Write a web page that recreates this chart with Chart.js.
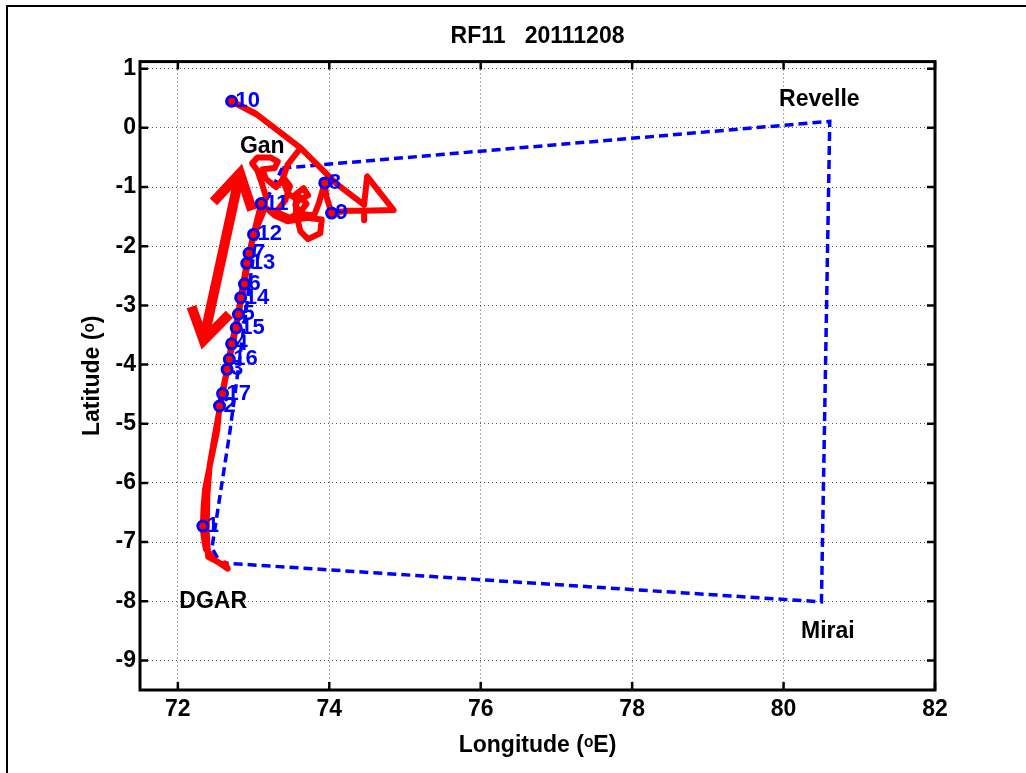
<!DOCTYPE html>
<html>
<head>
<meta charset="utf-8">
<title>RF11 20111208</title>
<script src="https://cdn.jsdelivr.net/npm/chart.js@4.4.0/dist/chart.umd.min.js"></script>
<style>
  html, body { margin: 0; padding: 0; background: #fff; }
  #wrap { position: relative; width: 1026px; height: 773px; }
  #frame { position: absolute; left: 6px; top: 5px; right: 0; bottom: 0;
           border-left: 2px solid #000; border-top: 2px solid #000; pointer-events: none; }
</style>
</head>
<body>
<div id="wrap">
  <canvas id="flightChart" width="1026" height="773"></canvas>
  <div id="frame"></div>
</div>
<script>
// --- Axis ticks ---
const lonTicks = [72, 74, 76, 78, 80, 82];
const latTicks = [-9, -8, -7, -6, -5, -4, -3, -2, -1, 0, 1];

// --- Red aircraft track (lon / lat) ---
const trackLon = [
  72.64, 72.48, 72.37, 72.34, 72.33, 72.34, 72.36, 72.44, 72.52, 72.55,
  72.65, 72.71, 72.80, 72.88, 72.94, 73.02, 73.12, 73.16, 73.10, 73.05,
  72.98, 73.05, 73.22, 73.32, 73.28, 73.12, 73.16, 73.30, 73.40, 73.48,
  73.42, 73.30, 73.48, 73.62, 73.70, 73.62, 73.55, 73.62, 73.80, 73.86,
  73.94, 73.96, 74.03, 74.25, 74.46, 74.46, 74.46, 74.85, 74.50, 74.46,
  74.10, 73.62, 73.58, 73.05, 73.02, 72.71,
  73.05, 73.62, 73.45, 73.38, 73.46, 73.60, 73.72, 73.66, 73.56, 73.56,
  73.62, 73.72, 73.88, 73.90, 73.70, 73.45, 73.28, 73.10, 73.00, 72.91,
  72.83, 72.77, 72.68, 72.59, 72.50, 72.42, 72.39, 72.38, 72.40, 72.52,
  72.66, 72.62
];
const trackLat = [
  -7.42, -7.30, -7.12, -6.90, -6.73, -6.40, -6.10, -5.60, -5.11, -4.70,
  -4.08, -3.65, -3.15, -2.64, -2.12, -1.75, -1.45, -1.15, -0.90, -0.72,
  -0.60, -0.50, -0.50, -0.57, -0.68, -0.70, -0.86, -1.00, -0.85, -0.98,
  -1.22, -1.42, -1.52, -1.42, -1.28, -1.18, -1.30, -1.45, -1.48, -1.28,
  -0.93, -1.15, -1.44, -1.40, -1.40, -1.56, -1.40, -1.39, -0.82, -1.30,
  -0.95, -0.34, -0.30, 0.22, 0.25, 0.45,
  0.22, -0.34, -0.62, -0.88, -1.12, -1.22, -1.14, -1.02, -1.12, -1.45,
  -1.75, -1.88, -1.78, -1.55, -1.52, -1.58, -1.48, -1.28, -1.80, -2.29,
  -2.87, -3.38, -3.91, -4.49, -5.11, -5.70, -6.20, -6.80, -7.25, -7.33,
  -7.45, -7.36
];

// --- Blue dashed planned box (Gan - Revelle - Mirai - DGAR) ---
const planLon = [73.38, 80.61, 80.50, 72.56, 72.45, 72.69, 73.07, 73.38];
const planLat = [-0.68, 0.11, -8.01, -7.35, -7.10, -5.11, -1.47, -0.68];

// --- Hourly markers ---
const markNames = ['1', '2', '3', '4', '5', '6', '7', '8', '9', '10', '11', '12', '13', '14', '15', '16', '17'];
const markLon = [72.33, 72.55, 72.65, 72.71, 72.80, 72.88, 72.94, 73.94, 74.03, 72.71, 73.10, 73.00, 72.91, 72.83, 72.77, 72.68, 72.59];
const markLat = [-6.73, -4.70, -4.08, -3.65, -3.15, -2.64, -2.12, -0.93, -1.44, 0.45, -1.28, -1.80, -2.29, -2.87, -3.38, -3.91, -4.49];

// --- Site names ---
const siteNames = ['Gan', 'Revelle', 'DGAR', 'Mirai'];
const siteLon = [72.82, 79.94, 72.02, 80.23];
const siteLat = [-0.32, 0.475, -8.01, -8.52];

// --- Double-headed arrow ---
const arrowShaftLon = [72.34, 72.82];
const arrowShaftLat = [-3.59, -0.77];
const arrowUpLon = [72.47, 72.82, 72.98];
const arrowUpLat = [-1.25, -0.77, -1.39];
const arrowDownLon = [72.18, 72.34, 72.68];
const arrowDownLat = [-3.02, -3.59, -3.15];

const toPoints = (xs, ys) => xs.map((v, i) => ({ x: v, y: ys[i] }));

const FONT = "'Liberation Sans', Arial, sans-serif";

// Text on the plot (site names under the lines, hour labels on top)
const plotText = {
  id: 'plotText',
  beforeDatasetsDraw(chart) {
    const { ctx, scales: { x, y } } = chart;
    ctx.save();
    ctx.font = 'bold 23px ' + FONT;
    ctx.fillStyle = '#000';
    ctx.textBaseline = 'middle';
    ctx.textAlign = 'left';
    siteNames.forEach((s, i) => {
      ctx.fillText(s, x.getPixelForValue(siteLon[i]), y.getPixelForValue(siteLat[i]));
    });
    ctx.restore();
  },
  afterDatasetsDraw(chart) {
    const { ctx, scales: { x, y } } = chart;
    ctx.save();
    ctx.font = 'bold 22px ' + FONT;
    ctx.fillStyle = '#0000ff';
    ctx.textBaseline = 'middle';
    ctx.textAlign = 'left';
    markNames.forEach((s, i) => {
      ctx.fillText(s, x.getPixelForValue(markLon[i]) + 4, y.getPixelForValue(markLat[i]));
    });
    ctx.restore();
  }
};

// MATLAB style box with inward ticks on all sides
const axesBox = {
  id: 'axesBox',
  afterDraw(chart) {
    const { ctx, chartArea: a, scales: { x, y } } = chart;
    ctx.save();
    ctx.strokeStyle = '#000';
    ctx.lineWidth = 2.5;
    ctx.beginPath();
    x.ticks.forEach(t => {
      const px = x.getPixelForValue(t.value);
      ctx.moveTo(px, a.bottom); ctx.lineTo(px, a.bottom - 8);
      ctx.moveTo(px, a.top); ctx.lineTo(px, a.top + 8);
    });
    y.ticks.forEach(t => {
      const py = y.getPixelForValue(t.value);
      ctx.moveTo(a.left, py); ctx.lineTo(a.left + 8, py);
      ctx.moveTo(a.right, py); ctx.lineTo(a.right - 8, py);
    });
    ctx.stroke();
    ctx.lineWidth = 3;
    ctx.strokeRect(a.left, a.top, a.right - a.left, a.bottom - a.top);
    ctx.restore();
  }
};

new Chart(document.getElementById('flightChart'), {
  type: 'scatter',
  data: {
    datasets: [
      {
        label: 'Hourly markers',
        data: toPoints(markLon, markLat),
        pointRadius: 5,
        pointBorderWidth: 3,
        pointBorderColor: '#0000ff',
        pointBackgroundColor: '#ff0000',
        showLine: false,
        order: 0
      },
      {
        label: 'Arrow shaft',
        data: toPoints(arrowShaftLon, arrowShaftLat),
        showLine: true, borderColor: '#ff0000', borderWidth: 10, pointRadius: 0,
        borderCapStyle: 'butt', order: 1
      },
      {
        label: 'Arrow head up',
        data: toPoints(arrowUpLon, arrowUpLat),
        showLine: true, borderColor: '#ff0000', borderWidth: 10, pointRadius: 0,
        borderCapStyle: 'butt', borderJoinStyle: 'miter', order: 1
      },
      {
        label: 'Arrow head down',
        data: toPoints(arrowDownLon, arrowDownLat),
        showLine: true, borderColor: '#ff0000', borderWidth: 10, pointRadius: 0,
        borderCapStyle: 'butt', borderJoinStyle: 'miter', order: 1
      },
      {
        label: 'Track',
        data: toPoints(trackLon, trackLat),
        showLine: true, borderColor: '#ff0000', borderWidth: 6, pointRadius: 0,
        borderCapStyle: 'round', borderJoinStyle: 'round', order: 2
      },
      {
        label: 'Plan',
        data: toPoints(planLon, planLat),
        showLine: true, borderColor: '#0000ff', borderWidth: 3.5, pointRadius: 0,
        borderDash: [9, 5], order: 3
      }
    ]
  },
  options: {
    responsive: false,
    devicePixelRatio: 1,
    animation: false,
    layout: { padding: { left: 0, right: 91, top: 10, bottom: 0 } },
    plugins: {
      legend: { display: false },
      tooltip: { enabled: false },
      title: {
        display: true,
        fullSize: false,
        text: 'RF11   20111208',
        color: '#000',
        font: { family: FONT, size: 23, weight: 'bold' },
        padding: { top: 13, bottom: 11 }
      }
    },
    scales: {
      x: {
        type: 'linear',
        min: 71.5,
        max: 82,
        afterBuildTicks: s => { s.ticks = lonTicks.map(v => ({ value: v })); },
        afterFit: s => { s.height = 83; },
        grid: { color: '#555', lineWidth: 1, drawTicks: false },
        border: { display: false, dash: [1, 3] },
        ticks: { color: '#000', padding: 6, font: { family: FONT, size: 23, weight: 'bold' } },
        title: {
          display: true,
          text: 'Longitude (ᵒE)',
          color: '#000',
          font: { family: FONT, size: 23, weight: 'bold' },
          padding: { top: 0, bottom: 14 }
        }
      },
      y: {
        type: 'linear',
        min: -9.5,
        max: 1.12,
        afterBuildTicks: s => { s.ticks = latTicks.map(v => ({ value: v })); },
        afterFit: s => { s.width = 140; },
        grid: { color: '#555', lineWidth: 1, drawTicks: false },
        border: { display: false, dash: [1, 3] },
        ticks: { color: '#000', padding: 4, font: { family: FONT, size: 23, weight: 'bold' } },
        title: {
          display: true,
          text: 'Latitude (ᵒ)',
          color: '#000',
          font: { family: FONT, size: 23, weight: 'bold' },
          padding: { top: 79, bottom: 0 }
        }
      }
    }
  },
  plugins: [plotText, axesBox]
});
</script>
</body>
</html>
